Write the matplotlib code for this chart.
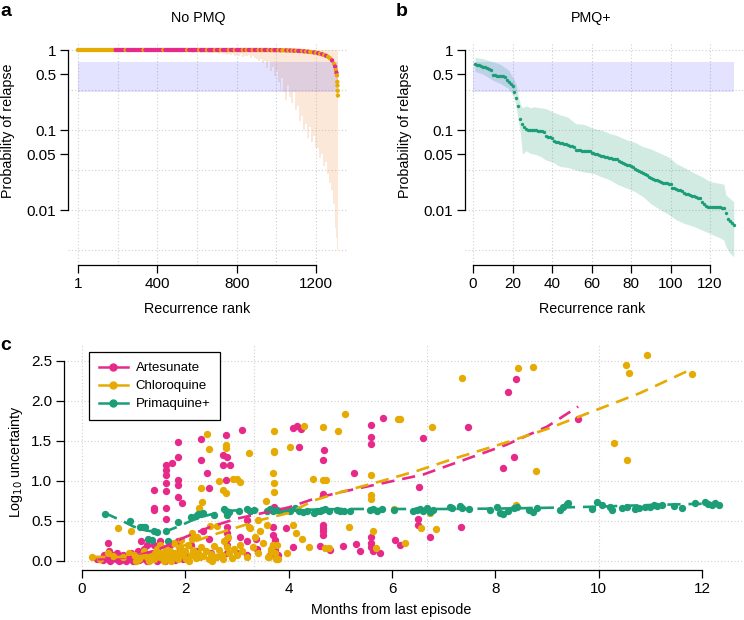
import numpy as np
import matplotlib
matplotlib.use("Agg")
import matplotlib.pyplot as plt
from matplotlib.lines import Line2D

plt.rcParams['font.family'] = ['Liberation Sans', 'DejaVu Sans']

PINK = '#E7298A'
ORANGE = '#E6AB02'
GREEN = '#1B9E77'

# ---------------- Panel a data (No PMQ) ----------------
ranks_a = [1, 11, 21, 31, 41, 51, 61, 71, 81, 91, 101, 111, 121, 131, 141, 151, 161, 171, 181, 191,
           201, 211, 221, 231, 241, 251, 261, 271, 281, 291, 301, 311, 321, 331, 341, 351, 361, 371, 381, 391,
           401, 411, 421, 431, 441, 451, 461, 471, 481, 491, 501, 511, 521, 531, 541, 551, 561, 571, 581, 591,
           601, 611, 621, 631, 641, 651, 661, 671, 681, 691, 701, 711, 721, 731, 741, 751, 761, 771, 781, 791,
           801, 811, 821, 831, 841, 851, 861, 871, 881, 891, 901, 911, 921, 931, 941, 951, 961, 971, 981, 991,
           1001, 1011, 1021, 1031, 1041, 1051, 1061, 1071, 1081, 1091, 1101, 1111, 1121, 1131, 1141, 1151,
           1161, 1171, 1181, 1191, 1201, 1211, 1221, 1231, 1241, 1251, 1261, 1271, 1281, 1291,
           1296, 1300, 1303, 1305, 1307, 1308, 1309, 1310]
prob_a = [1.00, 1.00, 1.00, 1.00, 1.00, 1.00, 1.00, 1.00, 1.00, 1.00, 1.00, 1.00, 1.00, 1.00, 1.00, 1.00, 1.00, 1.00, 1.00, 1.00,
          1.00, 1.00, 1.00, 1.00, 1.00, 1.00, 1.00, 1.00, 1.00, 1.00, 1.00, 1.00, 1.00, 1.00, 1.00, 1.00, 1.00, 1.00, 1.00, 1.00,
          1.00, 1.00, 1.00, 1.00, 1.00, 1.00, 1.00, 1.00, 1.00, 1.00, 1.00, 1.00, 1.00, 1.00, 1.00, 1.00, 1.00, 1.00, 1.00, 1.00,
          1.00, 1.00, 1.00, 1.00, 1.00, 1.00, 1.00, 1.00, 1.00, 1.00, 1.00, 1.00, 1.00, 1.00, 1.00, 1.00, 1.00, 1.00, 1.00, 1.00,
          1.00, 1.00, 1.00, 1.00, 1.00, 1.00, 1.00, 1.00, 1.00, 1.00, 1.00, 1.00, 1.00, 1.00, 1.00, 1.00, 0.998, 0.998, 0.997, 0.997,
          0.996, 0.995, 0.994, 0.993, 0.992, 0.99, 0.988, 0.986, 0.984, 0.981, 0.978, 0.975, 0.972, 0.968, 0.963, 0.958,
          0.952, 0.946, 0.94, 0.932, 0.923, 0.912, 0.90, 0.885, 0.866, 0.845, 0.82, 0.785, 0.74, 0.67,
          0.62, 0.56, 0.52, 0.48, 0.40, 0.36, 0.31, 0.27]
lower_a = [1.00, 1.00, 1.00, 1.00, 1.00, 1.00, 1.00, 1.00, 1.00, 1.00, 1.00, 1.00, 1.00, 1.00, 1.00, 1.00, 1.00, 1.00, 1.00, 1.00,
           1.00, 1.00, 1.00, 1.00, 1.00, 1.00, 1.00, 1.00, 1.00, 1.00, 1.00, 1.00, 1.00, 1.00, 1.00, 1.00, 1.00, 1.00, 1.00, 1.00,
           1.00, 1.00, 1.00, 1.00, 1.00, 1.00, 1.00, 1.00, 1.00, 1.00, 0.97, 0.96, 0.97, 0.95, 0.96, 0.94, 0.96, 0.95, 0.93, 0.95,
           0.94, 0.95, 0.92, 0.94, 0.95, 0.92, 0.91, 0.93, 0.92, 0.91, 0.91, 0.89, 0.92, 0.88, 0.90, 0.86, 0.89, 0.87, 0.88, 0.84,
           0.87, 0.85, 0.88, 0.82, 0.85, 0.83, 0.86, 0.80, 0.83, 0.80, 0.78, 0.72, 0.78, 0.68, 0.72, 0.60, 0.70, 0.55, 0.62, 0.48,
           0.55, 0.40, 0.30, 0.45, 0.30, 0.24, 0.36, 0.26, 0.22, 0.30, 0.18, 0.20, 0.13, 0.15, 0.10, 0.12,
           0.08, 0.11, 0.07, 0.085, 0.06, 0.06, 0.045, 0.05, 0.035, 0.04, 0.028, 0.022, 0.018, 0.012,
           0.009, 0.006, 0.0045, 0.004, 0.0035, 0.0032, 0.003, 0.0028]
upper_a = [1.0] * len(ranks_a)
# drug of each recurrence: C = chloroquine, A = artesunate
drug_a = ("CCCCCCCCCCCCCCCCCCC"
          "AAAAACAAAAAAAACAAAAAAAAACAAAAAAAAAAACAAAAA"
          "CAAACAAACAACAAACAACAAACACAACAACACAACACA"
          "ACACCACACACAACACACCACACACACCACACACCCC"
          "CC")

# ---------------- Panel b data (PMQ+) ----------------
prob_b = [0.66, 0.655, 0.65, 0.64, 0.62, 0.61, 0.59, 0.575, 0.56, 0.49,
          0.485, 0.48, 0.48, 0.475, 0.47, 0.46, 0.42, 0.40, 0.38, 0.35,
          0.30, 0.25, 0.20, 0.136, 0.12, 0.11, 0.102, 0.101, 0.10, 0.10,
          0.10, 0.099, 0.098, 0.097, 0.096, 0.095, 0.084, 0.082, 0.081, 0.079,
          0.072, 0.071, 0.070, 0.069, 0.068, 0.067, 0.066, 0.065, 0.064, 0.063,
          0.062, 0.057, 0.056, 0.056, 0.055, 0.055, 0.055, 0.054, 0.054, 0.052,
          0.051, 0.050, 0.050, 0.049, 0.048, 0.047, 0.046, 0.0455, 0.045, 0.0445,
          0.044, 0.0435, 0.043, 0.041, 0.040, 0.039, 0.038, 0.037, 0.036, 0.035,
          0.034, 0.033, 0.032, 0.031, 0.030, 0.029, 0.028, 0.027, 0.026, 0.025,
          0.0245, 0.024, 0.0235, 0.0228, 0.0225, 0.022, 0.0218, 0.0215, 0.0212, 0.021,
          0.019, 0.0186, 0.0183, 0.018, 0.0178, 0.0175, 0.0165, 0.016, 0.0157, 0.0153,
          0.015, 0.0148, 0.0146, 0.0143, 0.0141, 0.0125, 0.012, 0.0113, 0.011, 0.011,
          0.011, 0.0109, 0.0109, 0.0108, 0.0108, 0.0107, 0.0106, 0.0091, 0.0078, 0.0072,
          0.0068, 0.0065]
ranks_b = list(range(1, len(prob_b) + 1))
band_b_rank = [1, 5, 10, 14, 18, 21, 22, 23, 24, 25, 27, 29, 31, 34, 37, 40, 44, 48, 52, 56, 61, 65,
               69, 73, 78, 82, 86, 90, 95, 99, 103, 107, 112, 116, 120, 123, 125, 127, 128, 130, 132]
band_b_upper = [0.81, 0.78, 0.715, 0.66, 0.56, 0.42, 0.36, 0.26, 0.21, 0.19, 0.20, 0.19, 0.195, 0.19, 0.185,
                0.17, 0.155, 0.145, 0.12, 0.118, 0.105, 0.10, 0.091, 0.085, 0.075, 0.07, 0.062, 0.058,
                0.051, 0.046, 0.038, 0.034, 0.029, 0.026, 0.0226, 0.022, 0.0215, 0.021, 0.0155, 0.014, 0.0127]
band_b_lower = [0.54, 0.50, 0.42, 0.38, 0.33, 0.25, 0.18, 0.13, 0.09, 0.05, 0.055, 0.051, 0.05, 0.047,
                0.042, 0.040, 0.035, 0.034, 0.0316, 0.030, 0.0287, 0.026, 0.024, 0.021, 0.0187, 0.017,
                0.0147, 0.012, 0.010, 0.0088, 0.0075, 0.0068, 0.0062, 0.0056, 0.0051, 0.0047, 0.0045,
                0.0042, 0.0035, 0.0029, 0.0026]
band_prob = (0.3, 0.7)

# ---------------- Panel c data ----------------
art_pts = [(1.85, 1.49), (1.75, 1.22), (1.86, 1.30), (1.62, 1.20), (1.62, 1.14), (1.62, 1.08), (1.62, 0.97),
           (1.62, 0.87), (1.62, 0.66), (1.62, 0.53), (1.39, 0.89), (1.39, 0.66), (1.39, 0.64), (1.86, 1.01),
           (1.86, 0.95), (1.86, 0.80), (1.94, 0.72), (2.30, 1.53), (2.30, 1.26), (2.42, 1.10), (2.45, 0.91),
           (2.79, 1.57), (2.73, 1.32), (2.81, 1.30), (2.72, 1.20), (2.86, 1.20), (2.79, 1.01), (3.10, 1.64),
           (3.19, 0.51), (3.19, 0.07), (2.80, 0.43), (2.80, 0.35), (2.80, 0.27), (2.80, 0.20), (2.80, 0.10),
           (2.35, 0.38), (2.45, 0.28), (1.15, 0.25), (1.20, 0.15), (1.25, 0.20), (1.40, 0.20), (1.45, 0.12),
           (1.50, 0.25), (1.55, 0.05), (1.70, 0.20), (1.75, 0.10), (1.85, 0.25), (1.90, 0.15), (2.00, 0.08),
           (2.10, 0.20), (2.20, 0.12), (2.50, 0.10), (2.60, 0.05), (3.00, 0.10), (3.05, 0.30), (3.20, 0.25),
           (0.50, 0.23), (0.30, 0.02), (0.35, 0.03), (0.40, 0.01), (0.45, 0.05), (0.50, 0.02), (0.52, 0.12),
           (0.55, 0.00), (0.60, 0.04), (0.65, 0.02), (0.68, 0.10), (0.70, 0.06), (0.75, 0.01), (0.78, 0.03),
           (0.80, 0.08), (0.85, 0.00), (0.88, 0.05), (0.90, 0.02), (0.95, 0.10), (1.00, 0.03), (1.02, 0.00),
           (1.05, 0.06), (1.10, 0.01), (1.12, 0.09), (1.15, 0.03), (1.20, 0.05), (1.25, 0.00), (1.30, 0.08),
           (1.35, 0.02), (1.40, 0.04), (1.45, 0.00), (1.50, 0.07), (1.55, 0.02), (1.60, 0.00), (1.65, 0.05),
           (1.70, 0.03), (1.80, 0.01), (1.85, 0.06), (1.95, 0.02), (2.05, 0.04), (0.62, 0.08), (0.72, 0.00),
           (0.92, 0.07), (1.08, 0.12), (1.38, 0.10), (0.42, 0.08), (0.98, 0.00),
           (4.09, 1.66), (4.16, 1.69), (4.23, 1.65), (4.19, 1.42), (4.68, 1.39), (4.66, 1.26), (5.83, 1.79),
           (5.59, 1.70), (5.59, 1.55), (5.59, 1.46), (6.59, 1.54), (5.26, 1.10), (4.67, 0.84), (6.53, 0.93),
           (3.72, 0.68), (3.25, 0.62), (3.70, 0.43), (3.70, 0.33), (3.73, 0.26), (3.70, 0.20), (3.73, 0.14),
           (3.64, 0.075), (3.80, 0.075), (3.37, 0.27), (3.38, 0.145), (3.95, 0.41), (4.09, 0.18), (4.66, 0.45),
           (4.66, 0.41), (4.66, 0.37), (4.66, 0.33), (4.60, 0.19), (4.80, 0.14), (5.05, 0.19), (5.30, 0.21),
           (5.37, 0.13), (5.59, 0.30), (5.59, 0.23), (5.59, 0.17), (5.64, 0.13), (5.77, 0.10), (6.05, 0.26),
           (6.15, 0.20), (6.51, 0.53), (6.51, 0.45), (6.74, 0.30),
           (7.46, 1.68), (8.25, 2.11), (8.39, 2.27), (9.59, 1.78), (8.15, 1.16), (8.36, 1.30), (7.33, 0.43)]
chl_pts = [(2.42, 1.59), (2.45, 1.40), (2.79, 1.45), (2.79, 1.41), (3.23, 1.35), (2.65, 1.00), (2.93, 1.03),
           (3.00, 1.03), (3.06, 0.99), (2.30, 0.91), (2.32, 0.74), (2.73, 0.89), (2.79, 0.85), (0.69, 0.41),
           (0.94, 0.37), (2.27, 0.66), (2.48, 0.44), (2.62, 0.44), (2.13, 0.35), (2.23, 0.30), (3.23, 0.43),
           (0.20, 0.05), (0.35, 0.03), (0.50, 0.10), (0.60, 0.06), (0.80, 0.05), (1.00, 0.08), (1.10, 0.03),
           (1.20, 0.12), (1.25, 0.05), (1.30, 0.00), (1.35, 0.08), (1.40, 0.03), (1.45, 0.15), (1.50, 0.05),
           (1.55, 0.10), (1.60, 0.02), (1.65, 0.07), (1.70, 0.13), (1.72, 0.00), (1.75, 0.05), (1.80, 0.10),
           (1.85, 0.03), (1.90, 0.17), (1.95, 0.07), (2.00, 0.12), (2.02, 0.02), (2.05, 0.20), (2.10, 0.08),
           (2.15, 0.14), (2.20, 0.04), (2.25, 0.10), (2.30, 0.18), (2.35, 0.06), (2.40, 0.13), (2.45, 0.02),
           (2.50, 0.09), (2.55, 0.19), (2.60, 0.05), (2.65, 0.14), (2.70, 0.08), (2.75, 0.25), (2.80, 0.18),
           (2.82, 0.30), (2.85, 0.10), (2.90, 0.04), (2.95, 0.15), (3.00, 0.07), (3.10, 0.12), (3.20, 0.05),
           (3.30, 0.18), (3.40, 0.10), (3.50, 0.22), (1.50, 0.20), (1.62, 0.15), (1.78, 0.22), (1.92, 0.26),
           (2.12, 0.28), (0.90, 0.10), (1.05, 0.00), (1.15, 0.06), (1.42, 0.10), (1.58, 0.00), (1.68, 0.03),
           (1.88, 0.10), (2.08, 0.00), (2.28, 0.05), (2.52, 0.00), (2.72, 0.02), (3.05, 0.20), (3.60, 0.05),
           (3.65, 0.15),
           (5.09, 1.84), (6.12, 1.775), (6.16, 1.775), (3.72, 1.63), (4.30, 1.69), (4.66, 1.67), (4.96, 1.63),
           (4.03, 1.42), (3.72, 1.38), (3.72, 1.36), (3.69, 1.10), (3.72, 0.98), (3.72, 0.86), (4.46, 1.02),
           (4.66, 1.01), (4.72, 1.01), (5.59, 1.08), (5.59, 0.83), (5.59, 0.77), (3.56, 0.75), (3.41, 0.51),
           (3.45, 0.37), (3.57, 0.45), (4.09, 0.45), (4.15, 0.35), (4.25, 0.28), (4.40, 0.17), (4.70, 0.16),
           (4.77, 0.16), (5.16, 0.42), (5.63, 0.37), (5.69, 0.16), (6.25, 0.23), (6.04, 0.65), (6.55, 0.41),
           (3.25, 0.41), (3.35, 0.30), (3.62, 0.05), (3.66, 0.12), (3.70, 0.20), (3.73, 0.10), (3.78, 0.20),
           (3.80, 0.03), (3.76, 0.02), (3.96, 0.10),
           (7.35, 2.29), (8.43, 2.41), (8.72, 2.42), (6.77, 1.67), (8.79, 1.13), (6.74, 0.60), (6.85, 0.40),
           (8.39, 0.70), (10.93, 2.58), (10.53, 2.45), (10.59, 2.35), (11.80, 2.34), (10.30, 1.48), (10.55, 1.26)]
pmq_pts = [(0.44, 0.59), (0.93, 0.50), (1.12, 0.43), (1.18, 0.42), (1.22, 0.42), (1.27, 0.28), (1.35, 0.26),
           (1.39, 0.37), (1.45, 0.36), (1.62, 0.38), (1.66, 0.25), (1.86, 0.49), (2.10, 0.55), (2.20, 0.56),
           (2.25, 0.59), (2.30, 0.59), (2.35, 0.60), (2.55, 0.58), (2.75, 0.65), (2.78, 0.62), (2.81, 0.58),
           (2.85, 0.61), (3.04, 0.62), (3.19, 0.65), (3.25, 0.63),
           (3.32, 0.64), (3.57, 0.62), (3.64, 0.65), (3.70, 0.63), (3.77, 0.64), (3.83, 0.62), (3.96, 0.64),
           (4.03, 0.63), (4.12, 0.66), (4.19, 0.63), (4.28, 0.61), (4.35, 0.62), (4.48, 0.60), (4.54, 0.62),
           (4.61, 0.63), (4.64, 0.64), (4.70, 0.65), (4.77, 0.62), (4.93, 0.64), (5.00, 0.62), (5.06, 0.63),
           (5.19, 0.63), (5.57, 0.64), (5.64, 0.65), (5.70, 0.63), (5.80, 0.65), (6.03, 0.64), (6.41, 0.63),
           (6.48, 0.64), (6.54, 0.65), (6.60, 0.62),
           (6.67, 0.658), (6.73, 0.617), (6.80, 0.637), (7.12, 0.68), (7.16, 0.658), (7.32, 0.692),
           (7.35, 0.658), (7.48, 0.65), (7.89, 0.637), (8.03, 0.68), (8.09, 0.596), (8.15, 0.588),
           (8.25, 0.629), (8.35, 0.658), (8.41, 0.68), (8.64, 0.637), (8.73, 0.617), (8.80, 0.658),
           (9.25, 0.637), (9.31, 0.68), (9.38, 0.713), (9.41, 0.729), (9.86, 0.65), (9.96, 0.742),
           (10.06, 0.70), (10.22, 0.679), (10.25, 0.638), (10.45, 0.658), (10.54, 0.679), (10.70, 0.646),
           (10.77, 0.658), (10.90, 0.679), (10.99, 0.671), (11.06, 0.70), (11.12, 0.688), (11.22, 0.70),
           (11.45, 0.692), (11.61, 0.658), (11.86, 0.721), (12.06, 0.742), (12.12, 0.713), (12.19, 0.70),
           (12.25, 0.721), (12.32, 0.70)]
# smooth fits
art_fit = [(0.30, 0.02), (1.0, 0.05), (1.5, 0.15), (2.0, 0.30), (2.5, 0.43), (3.0, 0.53), (3.5, 0.60),
           (4.0, 0.67), (4.5, 0.78), (5.0, 0.86), (5.8, 0.97), (6.6, 1.08), (7.2, 1.22), (8.2, 1.45),
           (9.0, 1.68), (9.6, 1.93)]
chl_fit = [(0.20, 0.05), (1.0, 0.05), (1.5, 0.10), (2.0, 0.20), (2.5, 0.32), (3.0, 0.42), (3.5, 0.52),
           (4.0, 0.60), (4.5, 0.76), (5.0, 0.86), (5.8, 1.00), (6.5, 1.13), (7.2, 1.28), (8.2, 1.48),
           (9.0, 1.65), (10.0, 1.90), (10.8, 2.10), (11.8, 2.40)]
pmq_fit = [(0.44, 0.60), (0.75, 0.51), (1.0, 0.43), (1.25, 0.38), (1.5, 0.36), (1.7, 0.39), (1.9, 0.44),
           (2.1, 0.50), (2.3, 0.55), (2.6, 0.60), (2.9, 0.63), (3.3, 0.64), (4.0, 0.635), (5.0, 0.65),
           (6.0, 0.65), (7.0, 0.65), (8.0, 0.655), (9.0, 0.665), (10.0, 0.68), (11.0, 0.70), (12.3, 0.72)]
legend_labels = ['Artesunate', 'Chloroquine', 'Primaquine+']

# ---------------- Figure ----------------
W, H = 744, 620
fig = plt.figure(figsize=(W / 100, H / 100), dpi=100)


def fx(px):
    return px / W


def fy(py):
    return 1 - py / H


GRID = dict(color='#CFCFCF', lw=0.8, ls=(0, (1, 2)), zorder=0)
TICKFS = 11
LABFS = 10.3


def style_axes(ax):
    for s in ['top', 'right']:
        ax.spines[s].set_visible(False)
    for s in ['left', 'bottom']:
        ax.spines[s].set_linewidth(0.9)
    ax.tick_params(direction='out', length=5.5, width=0.9, labelsize=TICKFS, pad=3)


ylo, yhi = 10 ** -2.6875, 10 ** 0.1
prob_ticks = [1, 0.5, 0.1, 0.05, 0.01]
prob_ticklabels = ['1', '0.5', '0.1', '0.05', '0.01']
hgrid_prob = [1, 10 ** -0.5, 0.1, 10 ** -1.5, 0.01, 10 ** -2.5]

# panel a
ax_a = fig.add_axes([fx(68), fy(265), fx(348 - 68), (265 - 42) / H])
ax_a.set_yscale('log')
ax_a.set_xlim(-49.4, 1361)
ax_a.set_ylim(ylo, yhi)
for g in hgrid_prob:
    ax_a.axhline(g, **GRID)
for g in range(0, 1201, 200):
    ax_a.axvline(g, **GRID)
ax_a.fill_between(ranks_a, lower_a, upper_a, step='mid', color='#EE9A55', alpha=0.22, lw=0, zorder=1)
ax_a.fill_between([ranks_a[0], ranks_a[-1]], band_prob[0], band_prob[1],
                  color=(0, 0, 1, 0.11), lw=0, zorder=2)
cols_a = [ORANGE if c == 'C' else PINK for c in drug_a[:len(ranks_a)]]
ax_a.scatter(ranks_a, prob_a, s=10, c=cols_a, lw=0, zorder=3)
style_axes(ax_a)
ax_a.set_yticks(prob_ticks)
ax_a.set_yticklabels(prob_ticklabels)
ax_a.yaxis.set_minor_locator(matplotlib.ticker.NullLocator())
ax_a.set_xticks([1, 400, 800, 1200])
ax_a.set_xticklabels(['1', '400', '800', '1200'])
ax_a.spines['left'].set_bounds(0.01, 1)
ax_a.spines['bottom'].set_bounds(1, 1200)

# panel b
ax_b = fig.add_axes([fx(465), fy(265), fx(744 - 465), (265 - 42) / H])
ax_b.set_yscale('log')
ax_b.set_xlim(-4.05, 137.2)
ax_b.set_ylim(ylo, yhi)
for g in hgrid_prob:
    ax_b.axhline(g, **GRID)
for g in range(0, 121, 20):
    ax_b.axvline(g, **GRID)
ax_b.fill_between(band_b_rank, band_b_lower, band_b_upper, color=GREEN, alpha=0.2, lw=0, zorder=1)
ax_b.fill_between([0, ranks_b[-1]], band_prob[0], band_prob[1],
                  color=(0, 0, 1, 0.11), lw=0, zorder=2)
ax_b.scatter(ranks_b, prob_b, s=6, c=GREEN, lw=0, zorder=3)
style_axes(ax_b)
ax_b.set_yticks(prob_ticks)
ax_b.set_yticklabels(prob_ticklabels)
ax_b.yaxis.set_minor_locator(matplotlib.ticker.NullLocator())
ax_b.set_xticks(range(0, 121, 20))
ax_b.spines['left'].set_bounds(0.01, 1)
ax_b.spines['bottom'].set_bounds(0, 120)

# panel c
ax_c = fig.add_axes([fx(64), fy(570), fx(742 - 64), (570 - 344) / H])
ax_c.set_xlim(-0.348, 12.77)
ax_c.set_ylim(-0.1125, 2.7125)
for g in np.arange(0, 2.51, 0.5):
    ax_c.axhline(g, **GRID)
for g in [0, 10 / 3, 20 / 3, 10]:
    ax_c.axvline(g, **GRID)
art = np.array(art_pts)
chl = np.array(chl_pts)
pmq = np.array(pmq_pts)
ax_c.scatter(art[:, 0], art[:, 1], s=28, c=PINK, lw=0, zorder=3)
ax_c.scatter(chl[:, 0], chl[:, 1], s=28, c=ORANGE, lw=0, zorder=3)
ax_c.scatter(pmq[:, 0], pmq[:, 1], s=28, c=GREEN, lw=0, zorder=4)
for fit, col in [(art_fit, PINK), (chl_fit, ORANGE), (pmq_fit, GREEN)]:
    f = np.array(fit)
    ax_c.plot(f[:, 0], f[:, 1], color=col, lw=1.9, ls=(0, (5, 3)), zorder=5)
style_axes(ax_c)
ax_c.set_yticks(np.arange(0, 2.51, 0.5))
ax_c.set_yticklabels(['0.0', '0.5', '1.0', '1.5', '2.0', '2.5'])
ax_c.set_xticks(range(0, 13, 2))
ax_c.spines['left'].set_bounds(0, 2.5)
ax_c.spines['bottom'].set_bounds(0, 12)

handles = [Line2D([], [], color=c, lw=1.8, marker='o', markersize=5) for c in (PINK, ORANGE, GREEN)]
leg = fig.legend(handles, legend_labels, loc='upper left', bbox_to_anchor=(fx(89), fy(352)),
                 borderaxespad=0, frameon=True, fancybox=False, framealpha=1, edgecolor='black',
                 fontsize=9.5, handlelength=2.2, handletextpad=0.6, borderpad=0.75, labelspacing=0.45)
leg.get_frame().set_linewidth(0.9)

# texts
fig.text(fx(0), fy(15.5), 'a', fontsize=14, fontweight='bold', va='baseline', ha='left')
fig.text(fx(396), fy(15.5), 'b', fontsize=14, fontweight='bold', va='baseline', ha='left')
fig.text(fx(0), fy(350), 'c', fontsize=14, fontweight='bold', va='baseline', ha='left')
fig.text(fx(198), fy(22), 'No PMQ', fontsize=LABFS, ha='center', va='baseline')
fig.text(fx(591), fy(22), 'PMQ+', fontsize=LABFS, ha='center', va='baseline')
fig.text(fx(197), fy(313), 'Recurrence rank', fontsize=LABFS, ha='center', va='baseline')
fig.text(fx(592), fy(313), 'Recurrence rank', fontsize=LABFS, ha='center', va='baseline')
fig.text(fx(391), fy(614), 'Months from last episode', fontsize=LABFS, ha='center', va='baseline')
fig.text(fx(8), fy(131), 'Probability of relapse', fontsize=LABFS, ha='center', va='center', rotation=90)
fig.text(fx(405), fy(131), 'Probability of relapse', fontsize=LABFS, ha='center', va='center', rotation=90)
fig.text(fx(16), fy(462), 'Log$_{10}$ uncertainty', fontsize=LABFS, ha='center', va='center', rotation=90)

fig.savefig('out.png', dpi=100)
